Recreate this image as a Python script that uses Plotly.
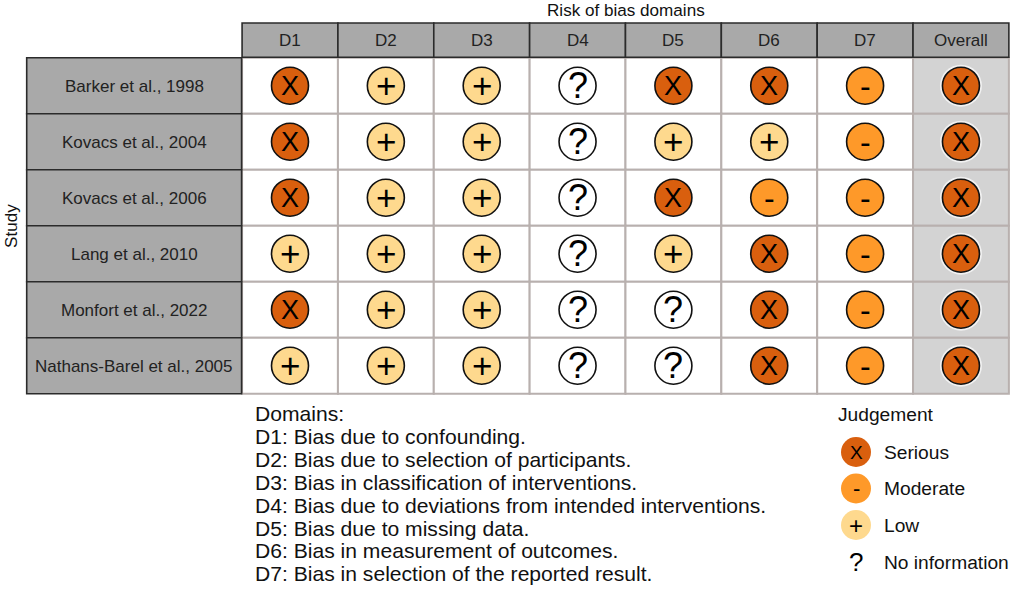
import plotly.graph_objects as go

W = 1013
H = 591
FONT = "Liberation Sans"

studies = ["Barker et al., 1998", "Kovacs et al., 2004", "Kovacs et al., 2006",
           "Lang et al., 2010", "Monfort et al., 2022", "Nathans-Barel et al., 2005"]
domains = ["D1", "D2", "D3", "D4", "D5", "D6", "D7", "Overall"]

# one list per column, same order as studies
d1 = ["Serious", "Serious", "Serious", "Low", "Serious", "Low"]
d2 = ["Low", "Low", "Low", "Low", "Low", "Low"]
d3 = ["Low", "Low", "Low", "Low", "Low", "Low"]
d4 = ["No information"] * 6
d5 = ["Serious", "Low", "Serious", "Low", "No information", "No information"]
d6 = ["Serious", "Low", "Moderate", "Serious", "Serious", "Serious"]
d7 = ["Moderate"] * 6
overall = ["Serious"] * 6
columns = [d1, d2, d3, d4, d5, d6, d7, overall]

levels = ["Serious", "Moderate", "Low", "No information"]
colours = {"Serious": "#D95F0E", "Moderate": "#FE9929", "Low": "#FED98E", "No information": "#FFFFFF"}
glyphs = {"Serious": "X", "Moderate": "-", "Low": "+", "No information": "?"}
glyph_size = {"Serious": 27, "Moderate": 32, "Low": 35, "No information": 36}
key_glyph_size = {"Serious": 19, "Moderate": 22, "Low": 24, "No information": 26}

notes = ["Domains:",
         "D1: Bias due to confounding.",
         "D2: Bias due to selection of participants.",
         "D3: Bias in classification of interventions.",
         "D4: Bias due to deviations from intended interventions.",
         "D5: Bias due to missing data.",
         "D6: Bias in measurement of outcomes.",
         "D7: Bias in selection of the reported result."]

# pixel geometry of the grid
col0 = 290
col_w = 95.85
row0 = 85.7
row_h = 56


def px_x(p):
    return p / W


def px_y(p):
    return 1 - p / H


fig = go.Figure()

n_col = len(domains)
n_row = len(studies)

# cells
shapes = []
for r in range(n_row):
    for c in range(n_col):
        shapes.append(dict(type="rect", xref="x", yref="y", layer="below",
                           x0=c - 0.5, x1=c + 0.5, y0=r - 0.5, y1=r + 0.5,
                           fillcolor="#D3D3D3" if domains[c] == "Overall" else "white",
                           line=dict(color="#B8B0AE", width=2)))

# header boxes
head_top = -1.12
head_bot = -0.507
for c in range(n_col):
    shapes.append(dict(type="rect", xref="x", yref="y", layer="below",
                       x0=c - 0.5, x1=c + 0.5, y0=head_top, y1=head_bot,
                       fillcolor="#A9A9A9", line=dict(color="#2B2B2B", width=1.6)))

# study boxes
left_edge = -2.747
right_edge = -0.505
for r in range(n_row):
    shapes.append(dict(type="rect", xref="x", yref="y", layer="below",
                       x0=left_edge, x1=right_edge, y0=r - 0.5, y1=r + 0.5,
                       fillcolor="#A9A9A9", line=dict(color="#2B2B2B", width=1.6)))

annotations = []

# traffic lights
for level in levels:
    xs = []
    ys = []
    for c in range(n_col):
        for r in range(n_row):
            if columns[c][r] == level:
                xs.append(c)
                ys.append(r)
                annotations.append(dict(xref="x", yref="y", x=c, y=r, text=glyphs[level],
                                        showarrow=False, xanchor="center", yanchor="middle",
                                        font=dict(family=FONT, size=glyph_size[level], color="black")))
    # white halo on the shaded column
    halo = [domains[c] == "Overall" for c in xs]
    fig.add_trace(go.Scatter(x=xs, y=ys, mode="markers", showlegend=False, hoverinfo="skip",
                             marker=dict(size=[42 if h else 1 for h in halo],
                                         color=["white" if h else "rgba(0,0,0,0)" for h in halo],
                                         line=dict(width=0))))
    fig.add_trace(go.Scatter(x=xs, y=ys, mode="markers", name=level, showlegend=False,
                             marker=dict(size=37, color=colours[level],
                                         line=dict(color="#111111", width=1.6))))

# judgement key, drawn on an overlay axis in pixel units
key_x = [856] * len(levels)
key_y = [452, 488.5, 525, 562]
for i, level in enumerate(levels):
    no_info = level == "No information"
    fig.add_trace(go.Scatter(x=[key_x[i]], y=[key_y[i]], xaxis="x2", yaxis="y2",
                             mode="markers", showlegend=False,
                             marker=dict(size=30, color=colours[level], opacity=0 if no_info else 1,
                                         line=dict(width=0))))
    annotations.append(dict(xref="x2", yref="y2", x=key_x[i], y=key_y[i], text=glyphs[level],
                            showarrow=False, xanchor="center", yanchor="middle",
                            font=dict(family=FONT, size=key_glyph_size[level], color="black")))


def add_text(x, y, text, size, anchor="left", colour="#111111", angle=0):
    annotations.append(dict(xref="paper", yref="paper", x=px_x(x), y=px_y(y), text=text,
                            showarrow=False, xanchor=anchor, yanchor="middle", textangle=angle,
                            font=dict(family=FONT, size=size, color=colour)))


add_text(626, 11, "Risk of bias domains", 17.1, anchor="center")
add_text(11, 226, "Study", 17.1, anchor="center", angle=-90)

for c, d in enumerate(domains):
    annotations.append(dict(xref="x", yref="y", x=c, y=(head_top + head_bot) / 2, text=d,
                            showarrow=False, xanchor="center", yanchor="middle",
                            font=dict(family=FONT, size=17, color="#222222")))
for r, s in enumerate(studies):
    annotations.append(dict(xref="paper", yref="y", x=px_x(134), y=r, text=s, yshift=-1,
                            showarrow=False, xanchor="center", yanchor="middle",
                            font=dict(family=FONT, size=17, color="#222222")))

for i, line in enumerate(notes):
    add_text(253, 413.5 + i * 22.9, line, 21.1)

add_text(836, 414.5, "Judgement", 19.2)
for i, level in enumerate(levels):
    add_text(882, key_y[i], level, 19.2)

fig.update_layout(
    width=W, height=H,
    margin=dict(l=0, r=0, t=0, b=0),
    paper_bgcolor="white",
    plot_bgcolor="white",
    showlegend=False,
    shapes=shapes,
    annotations=annotations,
    xaxis=dict(range=[-col0 / col_w, (W - col0) / col_w], visible=False, domain=[0, 1]),
    yaxis=dict(range=[(H - row0) / row_h, -row0 / row_h], visible=False, domain=[0, 1]),
    xaxis2=dict(range=[0, W], visible=False, overlaying="x", domain=[0, 1]),
    yaxis2=dict(range=[H, 0], visible=False, overlaying="y", domain=[0, 1]),
)

# the page has a default body margin, drop it so the figure fills the window
fig.write_html("out.html", config={"displayModeBar": False},
               post_script="document.body.style.margin='0';")
